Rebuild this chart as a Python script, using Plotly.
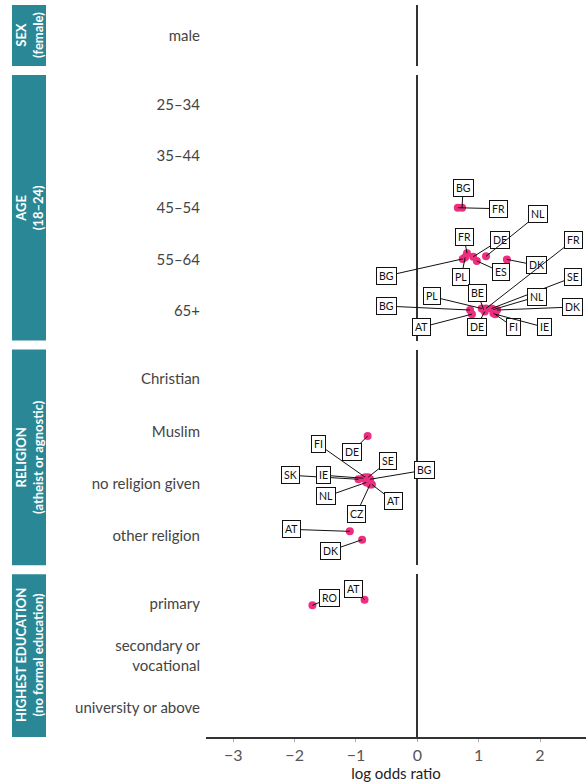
import plotly.graph_objects as go
from plotly.subplots import make_subplots

# ---------------- data ----------------
sex_levels = ["male"]
age_levels = ["25–34", "35–44", "45–54", "55–64", "65+"]
rel_levels = ["Christian", "Muslim", "no religion given", "other religion"]
edu_levels = ["primary", "secondary or<br>vocational", "university or above"]

strip_titles = ["<b>SEX</b><br><b>(female)</b>",
                "<b>AGE</b><br><b>(18–24)</b>",
                "<b>RELIGION</b><br><b>(atheist or agnostic)</b>",
                "<b>HIGHEST EDUCATION</b><br><b>(no formal education)</b>"]

sex_country, sex_level, sex_value, sex_jitter = [], [], [], []

age_country = ["BG", "FR",
               "FR", "BG", "PL", "DE", "ES", "NL", "DK",
               "BG", "AT", "PL", "BE", "DE", "FR", "SE", "NL", "FI", "IE", "DK"]
age_level = ["45–54"] * 2 + ["55–64"] * 7 + ["65+"] * 11
age_value = [0.73, 0.66,
             0.81, 0.74, 0.78, 0.91, 0.97, 1.12, 1.46,
             0.86, 0.89, 1.05, 1.08, 1.10, 1.12, 1.21, 1.24, 1.24, 1.27, 1.30]
age_jitter = [0.0, 0.0,
              0.12, 0.01, 0.04, 0.05, -0.03, 0.06, 0.0,
              0.02, -0.06, 0.05, 0.03, -0.01, 0.05, 0.05, 0.03, -0.04, -0.06, 0.02]

rel_country = ["DE",
               "FI", "SK", "IE", "SE", "BG", "NL", "AT", "CZ",
               "AT", "DK"]
rel_level = ["Muslim"] + ["no religion given"] * 8 + ["other religion"] * 2
rel_value = [-0.81,
             -0.85, -0.96, -0.88, -0.80, -0.77, -0.83, -0.74, -0.77,
             -1.10, -0.90]
rel_jitter = [-0.09,
              0.12, 0.08, 0.10, 0.12, 0.08, 0.02, -0.02, -0.02,
              0.08, -0.08]

edu_country = ["RO", "AT"]
edu_level = ["primary", "primary"]
edu_value = [-1.71, -0.86]
edu_jitter = [-0.03, 0.08]

# label placement (pixel offsets of each label box from its point)
age_label_dx = [1, 41, -3, -76, -4, 27, 24, 52, 30,
                -84, -50, -50, -6, -8, 87, 81, 44, 20, 49, 75]
age_label_dy = [-20, 1, -16, 17, 20, -17, 11, -42, 6,
                -4, 13, -12, -17, 15, -68, -31, -13, 14, 13, -3]
rel_label_dx = [-16, -47, -68, -40, 20, 54, -40, 22, -14, -58, -32]
rel_label_dy = [16, -33, -4, -3, -16, -9, 14, 17, 30, -2, 11]
edu_label_dx = [17, -11]
edu_label_dy = [-7, -11]

x_ticks = [-3, -2, -1, 0, 1, 2]
x_title = "log odds ratio"

# ---------------- figure ----------------
PINK = "#ee2f80"
TEAL = "#2a8896"
FONT = "Lato"

groups = [
    (sex_levels, sex_country, sex_level, sex_value, sex_jitter, [], []),
    (age_levels, age_country, age_level, age_value, age_jitter, age_label_dx, age_label_dy),
    (rel_levels, rel_country, rel_level, rel_value, rel_jitter, rel_label_dx, rel_label_dy),
    (edu_levels, edu_country, edu_level, edu_value, edu_jitter, edu_label_dx, edu_label_dy),
]

heights = [61, 266, 216, 163]
fig = make_subplots(rows=4, cols=1, shared_xaxes=True,
                    row_heights=heights, vertical_spacing=9 / 732)

annotations = []
shapes = []
PW = 380.0  # plot width in px
for r, (levels, ctry, lvl, val, jit, ldx, ldy) in enumerate(groups, start=1):
    n = len(levels)
    ypos = [n - 1 - levels.index(l) + j for l, j in zip(lvl, jit)]
    fig.add_trace(go.Scatter(x=val, y=ypos, mode="markers", text=ctry,
                             marker=dict(color=PINK, size=8),
                             hovertemplate="%{text}: %{x}<extra></extra>",
                             showlegend=False), row=r, col=1)
    xr = "x" if r == 1 else f"x{r}"
    yr = "y" if r == 1 else f"y{r}"
    for c, xv, yv, dx, dy in zip(ctry, val, ypos, ldx, ldy):
        annotations.append(dict(x=xv, y=yv, xref=xr, yref=yr, text=c,
                                showarrow=True, arrowhead=0, arrowwidth=1,
                                arrowcolor="#111", ax=dx, ay=dy,
                                standoff=0, startstandoff=0,
                                font=dict(family=FONT, size=10.5, color="#111"),
                                bgcolor="white", bordercolor="#111",
                                borderwidth=1, borderpad=2))
    fig.update_yaxes(row=r, col=1, range=[-0.57, n - 1 + 0.57],
                     tickvals=list(range(n - 1, -1, -1)), ticktext=levels,
                     showgrid=False, zeroline=False, showline=False,
                     ticks="", ticklabelstandoff=5,
                     tickfont=dict(family=FONT, size=15, color="#444"))
    fig.update_xaxes(row=r, col=1, range=[-3.445, 2.75], showgrid=False,
                     zeroline=True, zerolinecolor="#333", zerolinewidth=1.5,
                     tickvals=x_ticks, showticklabels=(r == 4),
                     ticks="outside" if r == 4 else "", ticklen=3,
                     tickcolor="#aaa", showline=(r == 4),
                     linecolor="#333", linewidth=1.5,
                     tickfont=dict(family=FONT, size=16, color="#555"))
    dom = "y domain" if r == 1 else f"y{r} domain"
    shapes.append(dict(type="rect", xref="paper", yref=dom,
                       x0=(12 - 206) / PW, x1=(46 - 206) / PW, y0=0, y1=1,
                       fillcolor=TEAL, line=dict(width=0), layer="below"))
    annotations.append(dict(xref="paper", yref=dom, x=(29.5 - 206) / PW, y=0.5,
                            text=strip_titles[r - 1], showarrow=False,
                            textangle=-90, xanchor="center", yanchor="middle",
                            font=dict(family=FONT, size=13, color="white")))

fig.update_xaxes(row=4, col=1, title=dict(text=x_title, standoff=3,
                 font=dict(family=FONT, size=15, color="#222")))

fig.update_layout(width=586, height=783,
                  margin=dict(l=206, r=0, t=5, b=46),
                  plot_bgcolor="white", paper_bgcolor="white",
                  font=dict(family=FONT),
                  annotations=annotations, shapes=shapes)

fig.write_html("out.html", config={"displayModeBar": False},
               post_script="document.body.style.margin='0';"
                           "document.body.style.overflow='hidden';")
